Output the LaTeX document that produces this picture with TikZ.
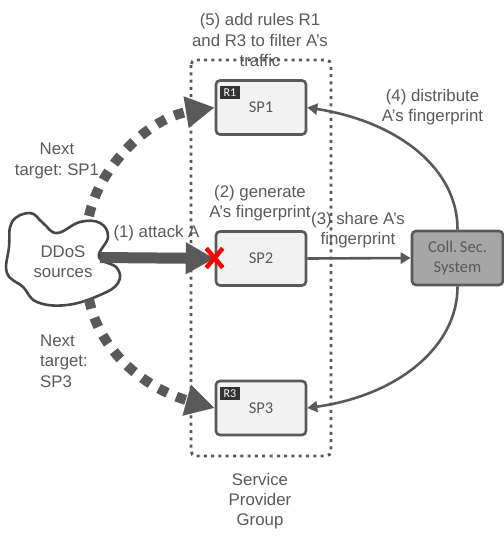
\documentclass[tikz,border=0pt]{standalone}
\usepackage{fontspec}
\setmainfont{Liberation Sans}
\newfontfamily\boxfont{Carlito}
\usetikzlibrary{calc,arrows.meta}
\usetikzlibrary{shapes.misc}
\frenchspacing
\definecolor{sp-text}{HTML}{595959}
\definecolor{sp-line}{HTML}{595959}
\definecolor{sp-fill}{HTML}{F2F2F2}
\definecolor{sp-coll}{HTML}{A6A6A6}
\definecolor{sp-tag}{HTML}{333333}
\tikzset{
    spbox/.style={draw=sp-line, fill=sp-fill, line width=2.6pt, rounded corners=4pt, minimum width=90pt, minimum height=54pt, inner sep=0pt, text=sp-text, font=\boxfont\fontsize{16.5}{19.5}\selectfont, align=center},
    sptag/.style={fill=sp-tag, text=white, minimum width=20pt, minimum height=13pt, inner sep=0pt, font=\boxfont\fontsize{12}{12}\selectfont},
    steplabel/.style={text=sp-text, font=\fontsize{16.8}{20.3}\selectfont, align=center, inner sep=0pt},
    nextarc/.style={draw=sp-line, line width=10pt, dash pattern=on 10pt off 9.5pt, -{Triangle[length=29pt,width=30pt,fill=sp-line]}},
    colarc/.style={draw=sp-line, line width=2.6pt, -{Triangle[length=10pt,width=11pt]}},
}
\begin{document}
\begin{tikzpicture}[x=1pt, y=-1pt, >=latex]
        \useasboundingbox (0,0) rectangle (504,539);
        % provider group
        \draw[sp-line, line width=2.8pt, dash pattern=on 3pt off 4.3pt, rounded corners=5pt] (191,60) rectangle (331,456);
        % cloud
        \draw[sp-line!80!black, line width=2.6pt] plot[smooth cycle, tension=0.7] coordinates {(12,222) (30,213) (43,223) (57,233) (80,222) (100,223) (108,237) (99,257) (117,268) (118,283) (100,295) (67,305) (37,302) (23,287) (7,273) (9,247)};
        \node[steplabel] (ddos) at (63,261.5) {DDoS\\sources};
        \coordinate (cloudtop) at (89,216);
        \coordinate (cloudright) at (100,257.5);
        \coordinate (cloudbot) at (89,299);
        % service providers
        \node[spbox] (sp1) at (261,107.5) {SP1};
        \node[spbox] (sp2) at (261,258.5) {SP2};
        \node[spbox] (sp3) at (261,408) {SP3};
        \node[spbox, fill=sp-coll, minimum width=91pt] (coll) at (457.5,258) {Coll.\,Sec.\\System};
        \node[sptag] (r1) at (230,92.5) {R1};
        \node[sptag] (r3) at (230,393.5) {R3};
        % arrows
        \draw[nextarc] (cloudtop) .. controls (100,165) and (150,118) .. (sp1.west);
        \draw[nextarc] (cloudbot) .. controls (100,355) and (150,390) .. (sp3.west);
        \draw[draw=sp-line, line width=11pt, -{Triangle[length=29pt,width=30pt,fill=sp-line]}] (cloudright) -- (sp2.west);
        \draw[colarc] (sp2.east) -- (coll.west);
        \draw[colarc] (coll.north) .. controls (458,170) and (400,122) .. (sp1.east);
        \draw[colarc] (coll.south) .. controls (458,345) and (400,395) .. (sp3.east);
        \node[draw=red, cross out, line width=4.5pt, minimum width=12pt, minimum height=15pt, inner sep=0pt] (hit) at (214.5,258) {};
        % labels
        \node[steplabel] (lab5) at (260,40) {(5) add rules R1\\and R3 to filter A’s\\traffic};
        \node[steplabel] (lab4) at (432.5,107.5) {(4) distribute\\A’s fingerprint};
        \node[steplabel] (lab2) at (260,203) {(2) generate\\A’s fingerprint};
        \node[steplabel] (lab3) at (358,230) {(3) share A’s\\fingerprint};
        \node[steplabel] (lab1) at (156.5,233) {(1) attack A};
        \node[steplabel] (next1) at (57,161) {Next\\target: SP1};
        \node[steplabel, align=left, anchor=west] (next3) at (40,361) {Next\\target:\\SP3};
        \node[steplabel] (group) at (260,501) {Service\\Provider\\Group};
\end{tikzpicture}
\end{document}
